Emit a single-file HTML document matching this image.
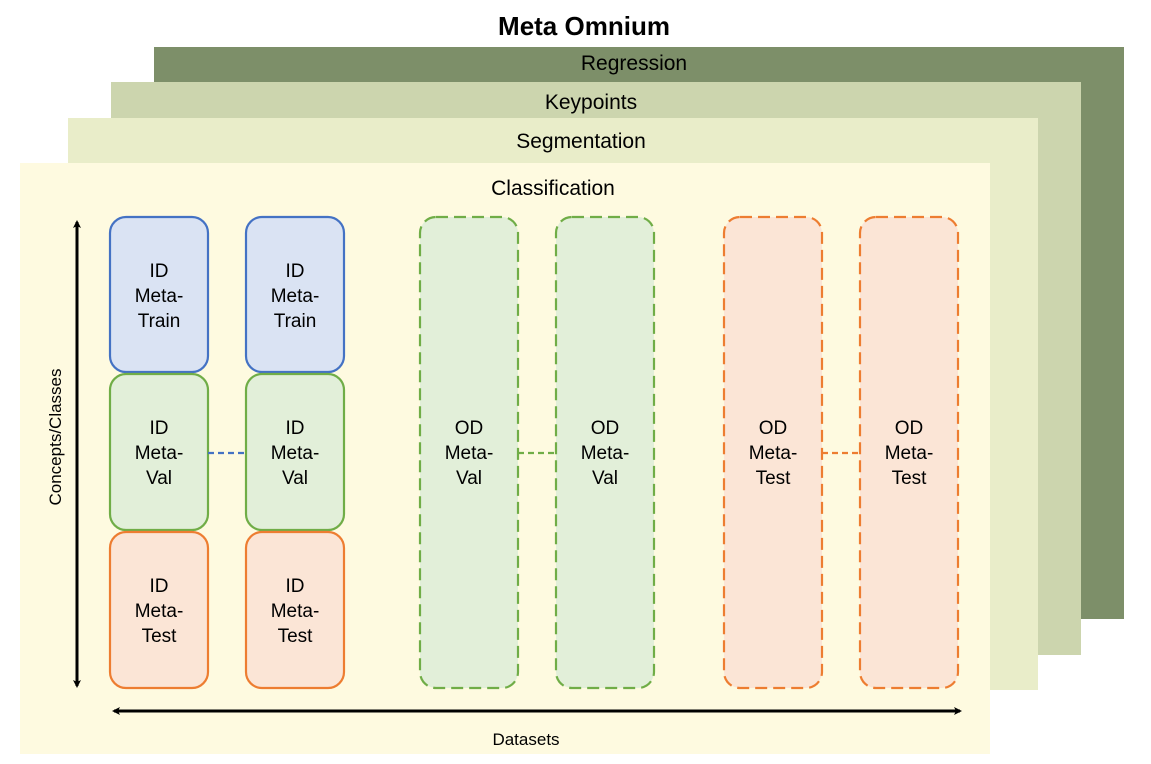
<!DOCTYPE html>
<html><head><style>body{margin:0;background:#fff}svg{display:block}text{font-family:"Liberation Sans",Arial,sans-serif;fill:#000}</style></head><body>
<svg width="1151" height="764" viewBox="0 0 1151 764" xmlns="http://www.w3.org/2000/svg">
<defs>
<marker id="a" markerWidth="8" markerHeight="8" refX="6" refY="4" orient="auto-start-reverse" markerUnits="userSpaceOnUse"><path d="M0,0 L8,4 L0,8 L2,4 Z" fill="#000"/></marker>
</defs>
<text x="584" y="35" font-size="26" font-weight="bold" text-anchor="middle">Meta Omnium</text>
<rect x="154" y="47" width="970" height="572" fill="#7d8f69"/>
<text x="634" y="70" font-size="21" text-anchor="middle">Regression</text>
<rect x="111" y="82" width="970" height="573" fill="#ccd5ae"/>
<text x="591" y="109" font-size="21" text-anchor="middle">Keypoints</text>
<rect x="68" y="118" width="970" height="572" fill="#e9edc9"/>
<text x="581" y="148" font-size="21" text-anchor="middle">Segmentation</text>
<rect x="20" y="163" width="970" height="591" fill="#fefae0"/>
<text x="553" y="195" font-size="21" text-anchor="middle">Classification</text>

<g stroke-width="2.2">
<rect x="110" y="217" width="98" height="155" rx="16" fill="#dae3f3" stroke="#4472c4"/>
<rect x="246" y="217" width="98" height="155" rx="16" fill="#dae3f3" stroke="#4472c4"/>
<rect x="110" y="374" width="98" height="156" rx="16" fill="#e2efd9" stroke="#70ad47"/>
<rect x="246" y="374" width="98" height="156" rx="16" fill="#e2efd9" stroke="#70ad47"/>
<rect x="110" y="532" width="98" height="156" rx="16" fill="#fbe5d6" stroke="#ed7d31"/>
<rect x="246" y="532" width="98" height="156" rx="16" fill="#fbe5d6" stroke="#ed7d31"/>
<rect x="420" y="217" width="98" height="471" rx="16" fill="#e2efd9" stroke="#70ad47" stroke-dasharray="12,6"/>
<rect x="556" y="217" width="98" height="471" rx="16" fill="#e2efd9" stroke="#70ad47" stroke-dasharray="12,6"/>
<rect x="724" y="217" width="98" height="471" rx="16" fill="#fbe5d6" stroke="#ed7d31" stroke-dasharray="12,6"/>
<rect x="860" y="217" width="98" height="471" rx="16" fill="#fbe5d6" stroke="#ed7d31" stroke-dasharray="12,6"/>
<line x1="208" y1="453" x2="246" y2="453" stroke="#4472c4" stroke-dasharray="6,4"/>
<line x1="518" y1="453" x2="556" y2="453" stroke="#70ad47" stroke-dasharray="6,4"/>
<line x1="822" y1="453" x2="860" y2="453" stroke="#ed7d31" stroke-dasharray="6,4"/>
</g>

<g font-size="19" text-anchor="middle">
<text x="159" y="277">ID</text><text x="159" y="302">Meta-</text><text x="159" y="327">Train</text>
<text x="295" y="277">ID</text><text x="295" y="302">Meta-</text><text x="295" y="327">Train</text>
<text x="159" y="434">ID</text><text x="159" y="459">Meta-</text><text x="159" y="484">Val</text>
<text x="295" y="434">ID</text><text x="295" y="459">Meta-</text><text x="295" y="484">Val</text>
<text x="159" y="592">ID</text><text x="159" y="617">Meta-</text><text x="159" y="642">Test</text>
<text x="295" y="592">ID</text><text x="295" y="617">Meta-</text><text x="295" y="642">Test</text>
<text x="469" y="434">OD</text><text x="469" y="459">Meta-</text><text x="469" y="484">Val</text>
<text x="605" y="434">OD</text><text x="605" y="459">Meta-</text><text x="605" y="484">Val</text>
<text x="773" y="434">OD</text><text x="773" y="459">Meta-</text><text x="773" y="484">Test</text>
<text x="909" y="434">OD</text><text x="909" y="459">Meta-</text><text x="909" y="484">Test</text>
</g>

<line x1="77" y1="222" x2="77" y2="686" stroke="#000" stroke-width="3" marker-start="url(#a)" marker-end="url(#a)"/>
<line x1="114" y1="711" x2="960" y2="711" stroke="#000" stroke-width="3" marker-start="url(#a)" marker-end="url(#a)"/>
<text x="0" y="0" font-size="17" text-anchor="middle" transform="translate(61,437) rotate(-90)">Concepts/Classes</text>
<text x="526" y="745" font-size="17" text-anchor="middle">Datasets</text>
</svg>
</body></html>
